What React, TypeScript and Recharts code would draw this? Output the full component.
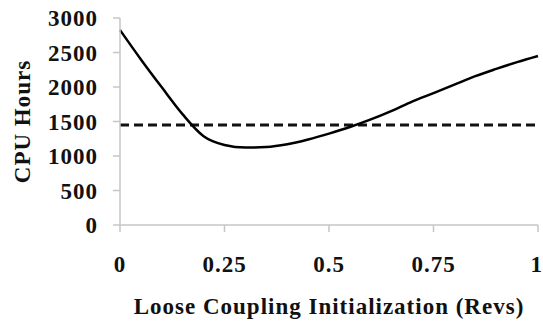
import { Line, LineChart, ReferenceLine, XAxis, YAxis } from "recharts";

// Loose coupling initialization (revs) vs CPU hours
const revs = [0, 0.05, 0.1, 0.15, 0.2, 0.25, 0.3, 0.35, 0.4, 0.45, 0.5, 0.55, 0.6, 0.65, 0.7, 0.75, 0.8, 0.85, 0.9, 0.95, 1];
const cpuHours = [2826, 2400, 1995, 1603, 1287, 1160, 1122, 1130, 1170, 1240, 1325, 1420, 1530, 1655, 1792, 1912, 2034, 2157, 2262, 2360, 2449];
const baselineHours = 1449;

const xTicks = [0, 0.25, 0.5, 0.75, 1];
const yTicks = [0, 500, 1000, 1500, 2000, 2500, 3000];

const data = revs.map((r, i) => ({ revs: r, hours: cpuHours[i] }));

const font = "'Liberation Serif', 'Times New Roman', serif";
const textStyle = { fontFamily: font, fontWeight: "bold", fontSize: 23, letterSpacing: 1, fill: "#111" };
const axisGray = "#c6c6c6";

export default function App() {
  return (
    <div style={{ position: "absolute", left: 0, top: 0, width: 543, height: 323, background: "#fff" }}>
      <LineChart width={543} height={323} data={data} margin={{ top: 18, right: 5, bottom: 0, left: 0 }}>
        <XAxis
          dataKey="revs"
          type="number"
          domain={[0, 1]}
          ticks={xTicks}
          height={98}
          tickSize={7}
          tickMargin={24}
          stroke={axisGray}
          strokeWidth={1.5}
          tick={textStyle}
          tickLine={{ stroke: axisGray, strokeWidth: 1.5 }}
          label={{
            value: "Loose Coupling Initialization (Revs)",
            position: "insideBottom",
            offset: 9,
            style: textStyle,
          }}
        />
        <YAxis
          type="number"
          domain={[0, 3000]}
          ticks={yTicks}
          width={120}
          tickSize={7}
          tickMargin={15}
          stroke={axisGray}
          strokeWidth={1.5}
          tick={textStyle}
          tickLine={{ stroke: axisGray, strokeWidth: 1.5 }}
          label={{
            value: "CPU Hours",
            angle: -90,
            position: "insideLeft",
            offset: 22,
            style: { ...textStyle, textAnchor: "middle" },
          }}
        />
        <ReferenceLine y={baselineHours} stroke="#111" strokeWidth={3} strokeDasharray="9 5" />
        <Line
          type="monotone"
          dataKey="hours"
          stroke="#000"
          strokeWidth={2.5}
          dot={false}
          isAnimationActive={false}
        />
      </LineChart>
    </div>
  );
}
